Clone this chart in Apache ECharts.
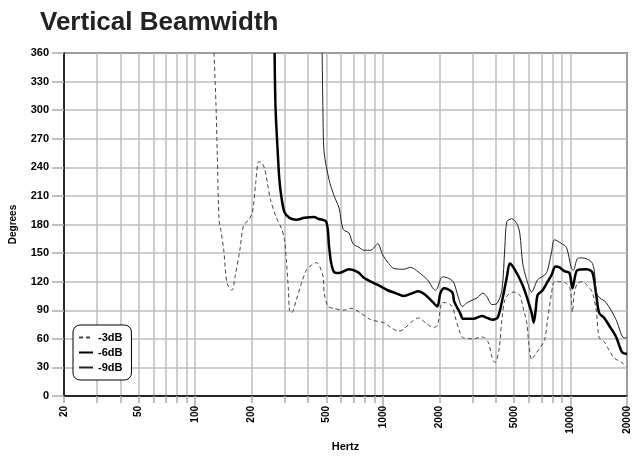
<!DOCTYPE html>
<html>
<head>
<meta charset="utf-8">
<script src="https://cdn.jsdelivr.net/npm/echarts@6/dist/echarts.min.js"></script>
<style>
  html, body { margin: 0; padding: 0; background: #fff; }
  #main { width: 632px; height: 460px; }
</style>
</head>
<body>
<div id="main"></div>
<script>
// frequencies in Hz, beamwidth in degrees
const freq3 = [126, 129, 131, 134, 137, 142, 148, 157, 163, 173, 181, 193, 202, 210, 218, 226, 234, 243, 252, 271, 288, 299, 306, 314, 318, 326, 346, 368, 391, 415, 442, 458, 481, 487, 511, 550, 614, 676, 764, 863, 1011, 1101, 1214, 1290, 1405, 1549, 1687, 1859, 1952, 2075, 2152, 2343, 2430, 2583, 2680, 3026, 3378, 3633, 3815, 3957, 4155, 4309, 4470, 4749, 5048, 5365, 5565, 5845, 5989, 6211, 6443, 6847, 7277, 7548, 7925, 8220, 8737, 9513, 9988, 10233, 10485, 10875, 11560, 12289, 13058, 13711, 14223, 15114, 16065, 17076, 18820, 20000]
const deg3 = [360, 308, 258, 185, 174, 153, 118, 111, 125, 153, 179, 185, 193, 223, 246, 245, 239, 223, 206, 187, 176, 164, 143, 111, 90, 87, 101, 118, 132, 137, 140, 137, 125, 108, 94, 92, 90, 92, 87, 80, 77, 72, 68, 70, 77, 82, 77, 72, 74, 98, 98, 94, 83, 66, 61, 60, 62, 57, 41, 35, 48, 80, 101, 108, 109, 106, 94, 77, 56, 38, 43, 50, 59, 80, 108, 120, 120, 118, 111, 88, 108, 118, 120, 116, 109, 90, 61, 57, 48, 40, 35, 30]

const freq6 = [265, 268, 275, 281, 288, 299, 318, 346, 382, 431, 452, 499, 517, 530, 550, 585, 660, 737, 793, 863, 951, 1061, 1170, 1290, 1440, 1549, 1687, 1837, 1952, 2025, 2126, 2343, 2401, 2583, 2680, 3026, 3378, 3589, 3862, 4105, 4362, 4580, 4749, 4926, 5236, 5565, 5916, 6211, 6365, 6522, 6683, 7102, 7548, 7925, 8321, 8737, 9284, 9867, 10233, 10613, 10875, 12140, 13058, 13711, 14223, 15114, 16065, 17499, 18820, 20000]
const deg6 = [360, 303, 258, 227, 209, 193, 187, 185, 187, 188, 186, 183, 157, 140, 130, 129, 133, 130, 124, 120, 116, 111, 108, 105, 108, 110, 106, 99, 94, 108, 113, 109, 99, 87, 81, 81, 84, 82, 80, 83, 104, 125, 139, 136, 127, 116, 101, 87, 77, 90, 106, 111, 120, 127, 136, 135, 131, 129, 113, 127, 132, 133, 130, 106, 87, 82, 74, 62, 46, 44]

const freq9 = [475, 481, 487, 517, 550, 585, 614, 660, 693, 746, 793, 863, 917, 940, 999, 1075, 1142, 1290, 1405, 1549, 1729, 1905, 1952, 2075, 2205, 2372, 2521, 2647, 2813, 3026, 3177, 3419, 3589, 3815, 4055, 4309, 4470, 4580, 4867, 5172, 5365, 5565, 5845, 6211, 6443, 6683, 7277, 7548, 7925, 8220, 8953, 9513, 10110, 10358, 10875, 11560, 12899, 13381, 13880, 15488, 17499, 19284, 20000]
const deg9 = [360, 282, 255, 227, 210, 197, 175, 171, 160, 156, 153, 153, 158, 160, 148, 139, 134, 133, 135, 130, 122, 111, 113, 125, 124, 120, 104, 94, 98, 101, 103, 108, 104, 96, 97, 111, 157, 183, 186, 181, 171, 139, 122, 109, 115, 122, 127, 132, 151, 164, 160, 156, 134, 132, 144, 145, 141, 132, 106, 98, 80, 61, 61]

const seriesNames = ['-3dB', '-6dB', '-9dB']
const gridFreqs = [20, 30, 40, 50, 60, 70, 80, 90, 100, 200, 300, 400, 500, 600, 700, 800, 900, 1000, 2000, 3000, 4000, 5000, 6000, 7000, 8000, 9000, 10000, 20000]
const majorFreqs = [100, 1000, 10000, 20000]
const labelFreqs = [20, 50, 100, 200, 500, 1000, 2000, 5000, 10000, 20000]

function pairs(fs, vs) {
    return fs.map((f, i) => [Math.log10(f), vs[i]])
}
const lg = a => a.map(v => Math.log10(v))

var myChart = echarts.init(document.getElementById('main'));

const font = 'Liberation Sans, Arial, sans-serif'

option = {
    animation: false,
    textStyle: { fontFamily: font },
    title: {
        text: 'Vertical Beamwidth',
        left: 35,
        top: 5,
        textStyle: { fontSize: 26, fontWeight: 'bold', color: '#222', fontFamily: font }
    },
    legend: {
        data: seriesNames,
        orient: 'vertical',
        left: 73,
        top: 325,
        padding: [7, 9, 7, 5],
        itemGap: 4,
        itemWidth: 14,
        itemHeight: 11,
        borderColor: '#000',
        borderWidth: 1,
        borderRadius: 7,
        backgroundColor: '#fff',
        itemStyle: { opacity: 0 },
        textStyle: { fontSize: 11, fontWeight: 'bold', color: '#000' }
    },
    grid: {
        left: 61,
        right: 2,
        top: 53,
        bottom: 64,
        show: true,
        borderColor: '#000',
        borderWidth: 1.5
    },
    xAxis: [{
        type: 'value',
        min: Math.log10(20),
        max: Math.log10(20000),
        name: 'Hertz',
        nameLocation: 'middle',
        nameGap: 45,
        nameTextStyle: { fontSize: 11, fontWeight: 'bold', color: '#000' },
        axisLine: { lineStyle: { color: '#000', width: 1.5 } },
        axisTick: { customValues: lg(gridFreqs), length: 7, lineStyle: { color: '#aaa', width: 1.5 } },
        axisLabel: {
            customValues: lg(labelFreqs),
            rotate: 90,
            margin: 10,
            fontSize: 10,
            fontWeight: 'bold',
            color: '#000',
            formatter: v => String(Math.round(Math.pow(10, v)))
        },
        splitLine: { show: true, lineStyle: { color: '#bdbdbd', width: 1.5 } }
    }, {
        type: 'value',
        position: 'bottom',
        min: Math.log10(20),
        max: Math.log10(20000),
        axisLine: { show: false },
        axisTick: { customValues: lg(majorFreqs), length: 15, lineStyle: { color: '#aaa', width: 1.5 } },
        axisLabel: { show: false },
        splitLine: { show: false }
    }],
    yAxis: {
        type: 'value',
        min: 0,
        max: 360,
        interval: 30,
        name: 'Degrees',
        nameLocation: 'middle',
        nameGap: 46,
        nameTextStyle: { fontSize: 10, fontWeight: 'bold', color: '#000' },
        axisLine: { show: true, lineStyle: { color: '#000', width: 1.5 } },
        axisTick: { show: true, length: 12, lineStyle: { color: '#aaa', width: 1.5 } },
        axisLabel: { margin: 15, fontSize: 11, fontWeight: 'bold', color: '#000' },
        splitLine: { lineStyle: { color: '#bdbdbd', width: 1.5 } }
    },
    series: [{
        name: seriesNames[0],
        type: 'line',
        symbol: 'none',
        smooth: 0.3,
        data: pairs(freq3, deg3),
        itemStyle: { color: '#444' },
        lineStyle: { color: '#444', width: 1, type: [4, 3] }
    }, {
        name: seriesNames[1],
        type: 'line',
        symbol: 'none',
        smooth: 0.3,
        data: pairs(freq6, deg6),
        itemStyle: { color: '#000' },
        lineStyle: { color: '#000', width: 2.5 }
    }, {
        name: seriesNames[2],
        type: 'line',
        symbol: 'none',
        smooth: 0.3,
        data: pairs(freq9, deg9),
        itemStyle: { color: '#222' },
        lineStyle: { color: '#222', width: 1 }
    }]
};

myChart.setOption(option);
</script>
</body>
</html>
